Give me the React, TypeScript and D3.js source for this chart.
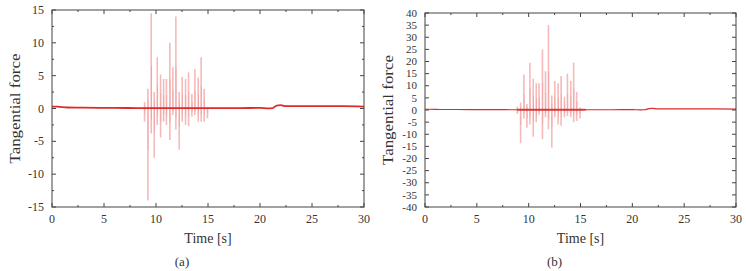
import React from "react";
import * as d3 from "d3";

// spike positions in time [s]
const spikeTimes = [8.9, 9.22, 9.54, 9.83, 10.12, 10.44, 10.73, 11.0, 11.33, 11.62, 11.91, 12.23, 12.52, 12.84, 13.13, 13.45, 13.74, 14.06, 14.34, 14.63, 14.95];

// panel (a)
const spikeMaxA = [1, 3, 14.5, 2.5, 7.8, 5.2, 4.5, 4.5, 10, 6.3, 14, 2.5, 4.8, 4.5, 5.5, 2.2, 6, 4.7, 7.8, 3, 0.2];
const spikeMinA = [-2, -14, -3.8, -7.5, -2.5, -4.4, -2, -2.5, -4.8, -1, -3.2, -6.3, -2, -2.5, -2.7, -1.2, -1, -2, -2, -2, -1.5];

// panel (b)
const spikeMaxB = [1.4, 3.1, 14.6, 2.5, 19.5, 13, 11, 11, 25, 16, 35, 6, 12, 11, 14, 5.5, 15, 12, 19.5, 7.5, 1];
const spikeMinB = [-1.6, -13.7, -3.5, -7.3, -6, -11, -5, -2, -12, -3, -8, -15.5, -3, -6, -6.5, -3, -2.5, -3, -5, -4.5, -3.5];

// slowly varying base signal
const baseTimes = [0, 0.5, 1.5, 3, 6, 9, 12, 15, 18, 20, 20.8, 21.2, 21.6, 22, 22.4, 25, 28, 30];
const baseA = [0.3, 0.3, 0.15, 0.12, 0.1, 0.05, 0.05, 0.05, 0.05, 0.1, 0.02, 0.05, 0.45, 0.5, 0.35, 0.35, 0.35, 0.3];
const baseB = [0.3, 0.3, 0.2, 0.2, 0.15, 0.1, 0.1, 0.1, 0.1, 0.15, 0.05, 0.1, 0.6, 0.7, 0.5, 0.45, 0.45, 0.4];

const xTicks = [0, 5, 10, 15, 20, 25, 30];
const yTicksA = [-15, -10, -5, 0, 5, 10, 15];
const yTicksB = [-40, -35, -30, -25, -20, -15, -10, -5, 0, 5, 10, 15, 20, 25, 30, 35, 40];

const FONT = "'Liberation Serif', 'Times New Roman', serif";
const AXIS = "#444";

interface PanelProps {
  left: number;
  right: number;
  top: number;
  bottom: number;
  yMax: number;
  yTicks: number[];
  yMinor: boolean;
  spikeMax: number[];
  spikeMin: number[];
  base: number[];
  label: string;
  tickFont: number;
  baseWidth: number;
  heavyBurst: boolean;
}

const Panel: React.FC<PanelProps> = ({
  left, right, top, bottom, yMax, yTicks, yMinor, spikeMax, spikeMin, base, label, tickFont, baseWidth, heavyBurst,
}) => {
  const x = d3.scaleLinear().domain([0, 30]).range([left, right]);
  const y = d3.scaleLinear().domain([-yMax, yMax]).range([bottom, top]);

  const line = d3
    .line<number>()
    .x((_, i) => x(baseTimes[i]))
    .y((d) => y(d))
    .curve(d3.curveMonotoneX);

  const xMinor = d3.range(2.5, 30, 5);
  const yMinorTicks = yMinor ? d3.range(-yMax + 2.5, yMax, 5) : [];
  const cx = (left + right) / 2;
  const cy = (top + bottom) / 2;

  return (
    <g>
      {/* spikes */}
      {spikeTimes.map((t, i) => (
        <line
          key={"s" + i}
          x1={x(t)}
          x2={x(t)}
          y1={y(spikeMax[i])}
          y2={y(spikeMin[i])}
          stroke="#ee8c8c"
          strokeOpacity={0.6}
          strokeWidth={1.6}
        />
      ))}
      {/* inner darker part of spikes */}
      {spikeTimes.map((t, i) => (
        <line
          key={"si" + i}
          x1={x(t) + 0.3}
          x2={x(t) + 0.3}
          y1={y(spikeMax[i] * 0.45)}
          y2={y(spikeMin[i] * 0.45)}
          stroke="#e57070"
          strokeOpacity={0.35}
          strokeWidth={0.8}
        />
      ))}
      {/* base signal */}
      <path d={line(base) ?? ""} fill="none" stroke="#dd2a2a" strokeWidth={baseWidth} />
      {heavyBurst && (
        <line
          x1={x(8.9)}
          x2={x(15.5)}
          y1={y(0.1)}
          y2={y(0.1)}
          stroke="#d42424"
          strokeWidth={baseWidth + 0.6}
          strokeOpacity={0.7}
        />
      )}

      {/* frame */}
      <rect x={left} y={top} width={right - left} height={bottom - top} fill="none" stroke={AXIS} strokeWidth={1} />

      {/* x ticks */}
      {xTicks.map((t) => (
        <g key={"xt" + t}>
          <line x1={x(t)} x2={x(t)} y1={bottom} y2={bottom - 4} stroke={AXIS} />
          <line x1={x(t)} x2={x(t)} y1={top} y2={top + 4} stroke={AXIS} />
          <text x={x(t)} y={bottom + 16} textAnchor="middle" fontFamily={FONT} fontSize={12} fill="#333">
            {t}
          </text>
        </g>
      ))}
      {xMinor.map((t) => (
        <g key={"xm" + t}>
          <line x1={x(t)} x2={x(t)} y1={bottom} y2={bottom - 2} stroke={AXIS} />
          <line x1={x(t)} x2={x(t)} y1={top} y2={top + 2} stroke={AXIS} />
        </g>
      ))}

      {/* y ticks */}
      {yTicks.map((t) => (
        <g key={"yt" + t}>
          <line x1={left} x2={left + 4} y1={y(t)} y2={y(t)} stroke={AXIS} />
          <line x1={right} x2={right - 4} y1={y(t)} y2={y(t)} stroke={AXIS} />
          <text
            x={left - 8}
            y={y(t)}
            dy="0.34em"
            textAnchor="end"
            fontFamily={FONT}
            fontSize={tickFont}
            fill="#333"
          >
            {t}
          </text>
        </g>
      ))}
      {yMinorTicks.map((t) => (
        <g key={"ym" + t}>
          <line x1={left} x2={left + 2} y1={y(t)} y2={y(t)} stroke={AXIS} />
          <line x1={right} x2={right - 2} y1={y(t)} y2={y(t)} stroke={AXIS} />
        </g>
      ))}

      {/* titles */}
      <text x={cx} y={243} textAnchor="middle" fontFamily={FONT} fontSize={14} fill="#333">
        Time [s]
      </text>
      <text
        transform={`translate(${left - 32},${cy}) rotate(-90)`}
        textAnchor="middle"
        fontFamily={FONT}
        fontSize={15}
        textLength={110}
        lengthAdjust="spacingAndGlyphs"
        fill="#333"
      >
        Tangential force
      </text>
      <text x={cx - 26} y={266} textAnchor="middle" fontFamily={FONT} fontSize={13} fill="#333">
        {label}
      </text>
    </g>
  );
};

export default function App() {
  return (
    <svg
      width={746}
      height={271}
      style={{ position: "absolute", left: 0, top: 0, background: "#fff" }}
    >
      <Panel
        left={52}
        right={364}
        top={10}
        bottom={207}
        yMax={15}
        yTicks={yTicksA}
        yMinor={true}
        spikeMax={spikeMaxA}
        spikeMin={spikeMinA}
        base={baseA}
        label="(a)"
        tickFont={12}
        baseWidth={1.8}
        heavyBurst={false}
      />
      <Panel
        left={425}
        right={736}
        top={13}
        bottom={207}
        yMax={40}
        yTicks={yTicksB}
        yMinor={false}
        spikeMax={spikeMaxB}
        spikeMin={spikeMinB}
        base={baseB}
        label="(b)"
        tickFont={11}
        baseWidth={1.2}
        heavyBurst={true}
      />
    </svg>
  );
}
